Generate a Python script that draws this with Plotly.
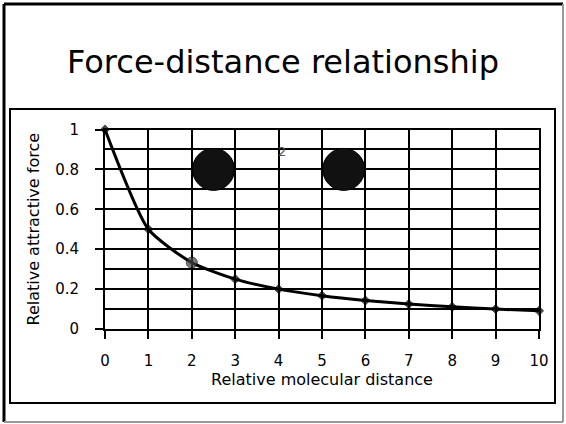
import plotly.graph_objects as go

# Data
distance = [0, 1, 2, 3, 4, 5, 6, 7, 8, 9, 10]
force = [1.0, 0.5, 0.333, 0.25, 0.2, 0.167, 0.143, 0.125, 0.111, 0.1, 0.091]
circle_x = [2.5, 5.5]
circle_y = [0.8, 0.8]
label_x = [4.08]
label_y = [0.885]
label_text = ["2"]
x_ticks = [0, 1, 2, 3, 4, 5, 6, 7, 8, 9, 10]
y_ticks = [0, 0.2, 0.4, 0.6, 0.8, 1]
y_tick_text = ["0", "0.2", "0.4", "0.6", "0.8", "1"]

W, H = 566, 424
FONT = "DejaVu Sans"

def px(x):
    return x / W

def py(y):
    return 1 - y / H

marker_sizes = [7] * len(distance)
marker_symbols = ["diamond"] * len(distance)
marker_colors = ["black"] * len(distance)
marker_sizes[2] = 11
marker_symbols[2] = "circle"
marker_colors[2] = "#444444"

fig = go.Figure()
fig.add_trace(go.Scatter(
    x=distance, y=force, mode="lines+markers",
    line=dict(color="black", width=3, shape="spline", smoothing=0.6),
    marker=dict(size=marker_sizes, symbol=marker_symbols, color=marker_colors,
                line=dict(color="black", width=1)),
    showlegend=False, hoverinfo="x+y", cliponaxis=False,
))
fig.add_trace(go.Scatter(
    x=circle_x, y=circle_y, mode="markers",
    marker=dict(size=42, color="#111111", line=dict(color="#000000", width=1)),
    showlegend=False,
))
fig.add_trace(go.Scatter(
    x=label_x, y=label_y, mode="text", text=label_text,
    textfont=dict(family=FONT, size=13, color="#555555"),
    showlegend=False,
))

axis_common = dict(
    showline=True, linecolor="black", linewidth=2, mirror=True,
    showgrid=True, gridcolor="black", gridwidth=2,
    zeroline=False, ticks="outside", ticklen=8, tickwidth=2, tickcolor="black",
    tickfont=dict(family=FONT, size=15, color="black"),
    automargin=False,
)

fig.update_xaxes(
    range=[0, 10], tickvals=x_ticks,
    domain=[px(105), px(539)],
    title=dict(text="Relative molecular distance", font=dict(family=FONT, size=16, color="black"), standoff=2),
    **axis_common,
)
fig.update_yaxes(
    range=[0, 1], tickvals=y_ticks, ticktext=y_tick_text,
    domain=[py(329), py(129.5)],
    minor=dict(dtick=0.1, tick0=0, showgrid=True, gridcolor="black", gridwidth=2),
    title=dict(text="Relative attractive force", font=dict(family=FONT, size=16, color="black"), standoff=12),
    **axis_common,
)
fig.update_yaxes(ticklabelstandoff=13)
fig.update_xaxes(ticklabelstandoff=9)

shapes = [
    # outer frame
    dict(type="line", x0=px(4), x1=px(563), y0=py(4), y1=py(4), line=dict(color="black", width=3)),
    dict(type="line", x0=px(4), x1=px(4), y0=py(4), y1=py(422), line=dict(color="black", width=3)),
    dict(type="line", x0=px(563), x1=px(563), y0=py(4), y1=py(422), line=dict(color="#999999", width=2)),
    dict(type="line", x0=px(4), x1=px(563), y0=py(422), y1=py(422), line=dict(color="#999999", width=2)),
    # inner frame
    dict(type="rect", x0=px(10), x1=px(555), y0=py(109), y1=py(403), line=dict(color="black", width=2)),
]
for s in shapes:
    s["xref"] = "paper"
    s["yref"] = "paper"
    s["layer"] = "above"

fig.update_layout(
    width=W, height=H,
    margin=dict(l=0, r=0, t=0, b=0, pad=0),
    autosize=False,
    paper_bgcolor="white", plot_bgcolor="white",
    shapes=shapes,
    annotations=[dict(
        text="Force-distance relationship", x=px(283), y=py(62),
        xref="paper", yref="paper", showarrow=False,
        xanchor="center", yanchor="middle",
        font=dict(family=FONT, size=32, color="black"),
    )],
)

fig.write_html(
    "out.html",
    config={"responsive": False, "displayModeBar": False},
    post_script="document.body.style.margin='0';document.body.style.overflow='hidden';",
)
